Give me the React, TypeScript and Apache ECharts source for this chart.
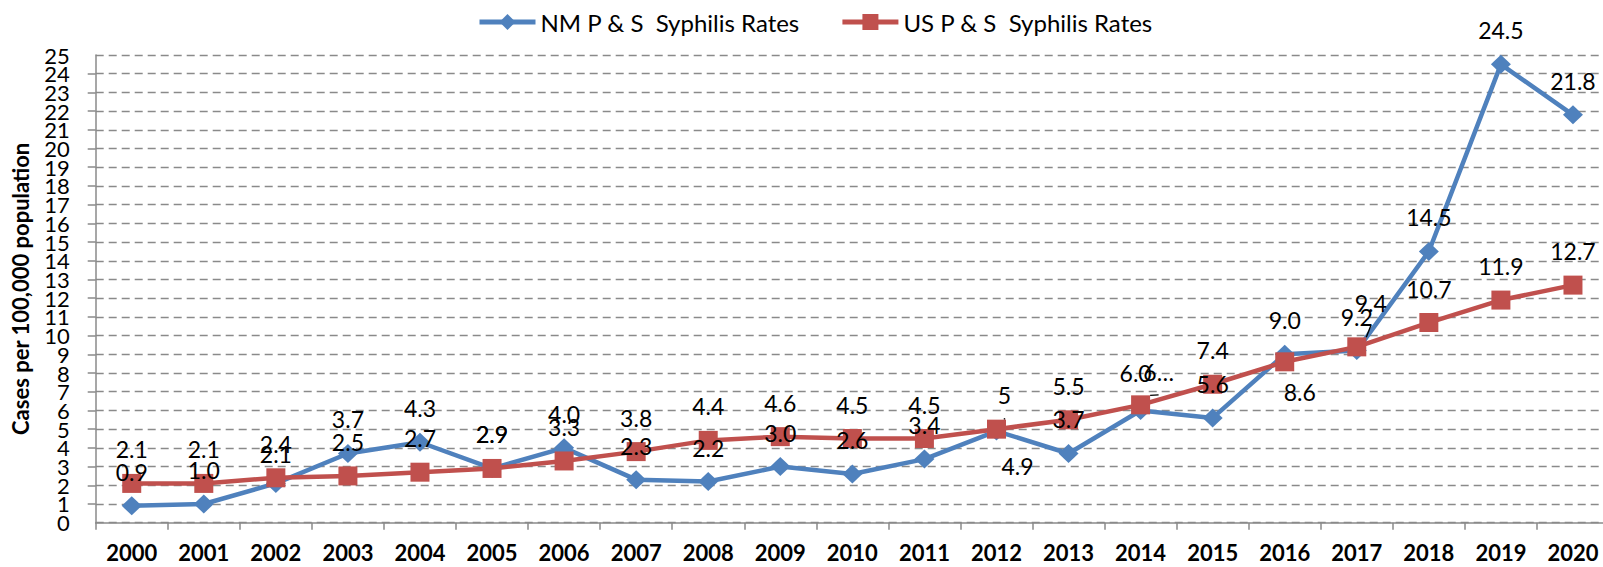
import { useEffect, useRef } from "react";
import * as echarts from "echarts";

const years = [
  "2000", "2001", "2002", "2003", "2004", "2005", "2006", "2007", "2008", "2009", "2010",
  "2011", "2012", "2013", "2014", "2015", "2016", "2017", "2018", "2019", "2020",
];
const nmRates = [0.9, 1.0, 2.1, 3.7, 4.3, 2.9, 4.0, 2.3, 2.2, 3.0, 2.6, 3.4, 4.9, 3.7, 6.0, 5.6, 9.0, 9.2, 14.5, 24.5, 21.8];
const usRates = [2.1, 2.1, 2.4, 2.5, 2.7, 2.9, 3.3, 3.8, 4.4, 4.6, 4.5, 4.5, 5.0, 5.5, 6.3, 7.4, 8.6, 9.4, 10.7, 11.9, 12.7];
const seriesNames = ["NM P & S  Syphilis Rates", "US P & S  Syphilis Rates"];
const yMin = 0;
const yMax = 25;
const yStep = 1;
const yEndTicks = [yMin, yMax];
const yTitle = "Cases per 100,000 population";

type Tweak = { offset: [number, number]; text?: string; leader?: boolean };
const nmLabelTweaks: Record<number, Tweak> = {
  2: { offset: [0, 5] },
  12: { offset: [21, 69] },
  14: { offset: [-5, -3] },
};
const usLabelTweaks: Record<number, Tweak> = {
  12: { offset: [8, 0], text: "5", leader: true },
  14: { offset: [18, 1], text: "6…", leader: true },
  16: { offset: [15, 64] },
  17: { offset: [14, -10], leader: true },
};

const FONT = "Lato, 'Noto Sans', sans-serif";
const BLUE = "#4F81BD";
const RED = "#C0504D";
const GRID = "#8a8a8a";

function toItems(vals: number[], tweaks: Record<number, Tweak>) {
  return vals.map((v, i) => {
    const t = tweaks[i];
    if (!t) return v;
    const item: any = { value: v, label: { offset: t.offset } };
    if (t.text) item.label.formatter = t.text;
    if (t.leader) item.labelLine = { show: true, lineStyle: { color: "#000", width: 1.4 } };
    return item;
  });
}

export default function App() {
  const ref = useRef<HTMLDivElement>(null);
  useEffect(() => {
    if (!ref.current) return;
    const chart = echarts.init(ref.current, undefined, { renderer: "svg" });
    const labelCommon = {
      show: true,
      position: "top" as const,
      distance: 13,
      color: "#000",
      fontFamily: FONT,
      fontSize: 23,
      formatter: (p: any) => Number(p.value).toFixed(1),
    };
    const yLabelStyle = { margin: 26, color: "#000", fontFamily: FONT, fontSize: 22 };
    chart.setOption({
      animation: false,
      backgroundColor: "#fff",
      textStyle: { fontFamily: FONT },
      legend: {
        left: 472,
        top: 5,
        itemWidth: 56,
        itemHeight: 20,
        itemGap: 40,
        lineStyle: { width: 5 },
        textStyle: { fontFamily: FONT, fontSize: 24, color: "#000" },
        data: seriesNames,
      },
      grid: { left: 95.7, right: -6, top: 55, bottom: 44.3, containLabel: false, outerBoundsMode: "none" },
      xAxis: {
        type: "category",
        data: years,
        boundaryGap: true,
        axisLine: { lineStyle: { color: GRID, width: 1.5 } },
        axisTick: { show: true, length: 7, lineStyle: { color: GRID, width: 1.5 } },
        axisLabel: { color: "#000", fontFamily: FONT, fontSize: 22, fontWeight: "bold", margin: 19, interval: 0 },
        splitLine: { show: false },
      },
      yAxis: [
        {
          type: "value",
          position: "left",
          min: yMin,
          max: yMax,
          interval: yStep,
          name: yTitle,
          nameLocation: "middle",
          nameRotate: 90,
          nameGap: 64,
          nameTextStyle: { color: "#000", fontFamily: FONT, fontSize: 22, fontWeight: "bold" },
          axisLine: { show: true, lineStyle: { color: GRID, width: 1.5 } },
          axisTick: { show: true, length: 8, lineStyle: { color: GRID, width: 1.5 } },
          axisLabel: { ...yLabelStyle, showMinLabel: false, showMaxLabel: false, hideOverlap: false },
          splitLine: { show: true, lineStyle: { color: GRID, width: 1.4, type: [8, 5] } },
        },
        {
          type: "value",
          position: "left",
          offset: 0,
          min: yMin,
          max: yMax,
          interval: yStep,
          axisLine: { show: false },
          axisTick: { show: false },
          splitLine: { show: false },
          axisLabel: { ...yLabelStyle, customValues: yEndTicks, showMinLabel: true, showMaxLabel: true, hideOverlap: false },
        },
      ],
      series: [
        {
          name: seriesNames[0],
          type: "line",
          yAxisIndex: 0,
          data: toItems(nmRates, nmLabelTweaks),
          symbol: "diamond",
          symbolSize: [20, 19],
          lineStyle: { color: BLUE, width: 4.5 },
          itemStyle: { color: BLUE },
          label: labelCommon,
          z: 2,
        },
        {
          name: seriesNames[1],
          type: "line",
          yAxisIndex: 0,
          data: toItems(usRates, usLabelTweaks),
          symbol: "rect",
          symbolSize: 19,
          lineStyle: { color: RED, width: 4.5 },
          itemStyle: { color: RED },
          label: labelCommon,
          z: 2,
        },
      ],
    });
    return () => chart.dispose();
  }, []);
  return (
    <div
      ref={ref}
      style={{ position: "fixed", left: 0, top: 0, width: 1603, height: 567, background: "#fff" }}
    />
  );
}
